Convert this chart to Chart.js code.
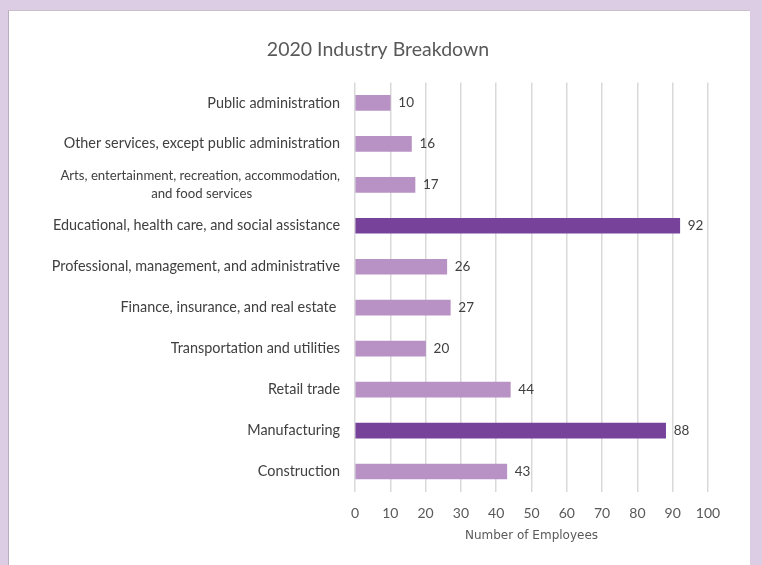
<!DOCTYPE html>
<html>
<head>
<meta charset="utf-8">
<script src="https://cdn.jsdelivr.net/npm/chart.js@4"></script>
<style>
  html, body { margin: 0; padding: 0; width: 762px; height: 565px; overflow: hidden; background: #dccde4; }
  #panel { position: absolute; left: 8px; top: 10px; width: 741px; height: 560px; background: #ffffff;
           border-left: 1px solid #b9aebf; border-top: 1px solid #c9c0cc; }
  #wrap { position: absolute; left: 0; top: 0; width: 762px; height: 565px; }
</style>
</head>
<body>
<div id="panel"></div>
<div id="wrap"><canvas id="c" width="762" height="565"></canvas></div>
<script>
const categories = [
  "Public administration",
  "Other services, except public administration",
  ["Arts, entertainment, recreation, accommodation,", "and food services"],
  "Educational, health care, and social assistance",
  "Professional, management, and administrative",
  "Finance, insurance, and real estate ",
  "Transportation and utilities",
  "Retail trade",
  "Manufacturing",
  "Construction"
];
const employees = [10, 16, 17, 92, 26, 27, 20, 44, 88, 43];
const highlighted = [false, false, false, true, false, false, false, false, true, false];
const xTicks = [0, 10, 20, 30, 40, 50, 60, 70, 80, 90, 100];
const chartTitle = "2020 Industry Breakdown";
const xAxisTitle = "Number of Employees";

const LIGHT = "#b992c5", DARK = "#77439a";
const FONT = "Lato, 'Open Sans', sans-serif";
const LABEL_SIZE = 14.4;
const MULTI_SIZE = 13.2;

// center the lines of a multi-line category label on each other (right-aligned block)
const measureCtx = document.createElement('canvas').getContext('2d');
function centeredLines(lines) {
  if (!Array.isArray(lines)) return lines;
  measureCtx.font = MULTI_SIZE + "px " + FONT;
  const widths = lines.map(l => measureCtx.measureText(l).width);
  const maxW = Math.max(...widths);
  const sp = measureCtx.measureText(' ').width;
  return lines.map((l, i) => l + ' '.repeat(Math.round((maxW - widths[i]) / 2 / sp)));
}

const valueLabels = {
  id: 'valueLabels',
  afterDatasetsDraw(chart) {
    const ctx = chart.ctx;
    const meta = chart.getDatasetMeta(0);
    ctx.save();
    ctx.font = "13.5px " + FONT;
    ctx.fillStyle = "#404040";
    ctx.textAlign = "left";
    ctx.textBaseline = "middle";
    meta.data.forEach((bar, i) => {
      ctx.fillText(String(employees[i]), bar.x + 8, bar.y);
    });
    ctx.restore();
  }
};

new Chart(document.getElementById('c'), {
  type: 'bar',
  data: {
    labels: categories.map(centeredLines),
    datasets: [{
      data: employees,
      backgroundColor: highlighted.map(h => h ? DARK : LIGHT),
      barThickness: 15,
      borderWidth: 0
    }]
  },
  options: {
    indexAxis: 'y',
    responsive: false,
    animation: false,
    devicePixelRatio: 1,
    layout: { padding: { left: 48, right: 54, top: 0, bottom: 22 } },
    plugins: {
      legend: { display: false },
      tooltip: { enabled: false },
      title: {
        display: true,
        text: chartTitle,
        color: "#595959",
        font: { family: FONT, size: 19.5, weight: 'normal' },
        padding: { top: 38, bottom: 21 }
      }
    },
    scales: {
      x: {
        min: 0, max: 100,
        afterBuildTicks(scale) { scale.ticks = xTicks.map(v => ({ value: v })); },
        afterFit(scale) { scale.height = 51; },
        grid: { color: "#d9d9d9", lineWidth: 1.5, drawTicks: false },
        border: { display: false },
        ticks: { color: "#595959", font: { family: FONT, size: 14 }, padding: 13 },
        title: {
          display: true, text: xAxisTitle, color: "#595959",
          font: { family: "'DejaVu Sans', sans-serif", size: 12 },
          padding: { top: 0, bottom: 0 }
        }
      },
      y: {
        afterFit(scale) { scale.width = 307; },
        grid: { display: false, drawTicks: false },
        border: { display: false },
        ticks: {
          color: "#404040",
          font: (c) => ({ family: FONT, size: Array.isArray(categories[c.index]) ? MULTI_SIZE : LABEL_SIZE, lineHeight: 1.35 }),
          padding: 15,
          autoSkip: false
        }
      }
    }
  },
  plugins: [valueLabels]
});
</script>
</body>
</html>
